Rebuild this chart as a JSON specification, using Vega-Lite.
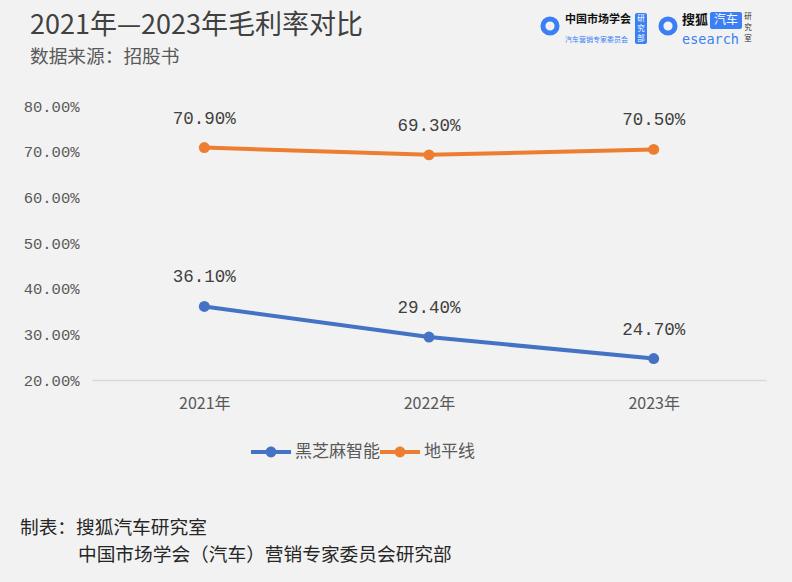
{
  "$schema": "https://vega.github.io/schema/vega-lite/v6.json",
  "width": 674,
  "height": 274,
  "autosize": "none",
  "padding": {"left": 92, "top": 106, "right": 26, "bottom": 202},
  "background": "#f2f2f2",
  "config": {"view": {"stroke": null}, "font": "Noto Sans CJK SC"},
  "layer": [
    {
      "data": {"values": [
        {"year": "2021年", "company": "黑芝麻智能", "value": 0.361},
        {"year": "2022年", "company": "黑芝麻智能", "value": 0.294},
        {"year": "2023年", "company": "黑芝麻智能", "value": 0.247},
        {"year": "2021年", "company": "地平线", "value": 0.709},
        {"year": "2022年", "company": "地平线", "value": 0.693},
        {"year": "2023年", "company": "地平线", "value": 0.705}
      ]},
      "encoding": {
        "x": {"field": "year", "type": "ordinal", "scale": {"type": "point", "padding": 0.5},
          "axis": {"title": null, "labelAngle": 0, "ticks": false, "domainColor": "#d9d9d9", "domainWidth": 1.5,
            "labelFont": "Noto Sans CJK SC", "labelFontSize": 16, "labelColor": "#595959", "labelPadding": 15, "labelDx": -6}},
        "y": {"field": "value", "type": "quantitative", "scale": {"domain": [0.2, 0.8], "nice": false},
          "axis": {"title": null, "format": ".2%", "values": [0.2, 0.3, 0.4, 0.5, 0.6, 0.7, 0.8], "grid": false, "domain": false, "ticks": false,
            "labelFont": "Liberation Mono", "labelFontSize": 15.5, "labelColor": "#595959", "labelPadding": 13}},
        "color": {"field": "company", "type": "nominal",
          "scale": {"domain": ["黑芝麻智能", "地平线"], "range": ["#4472C4", "#ED7D31"]},
          "legend": {"title": null, "orient": "none", "legendX": 159, "legendY": 326, "direction": "horizontal",
            "symbolType": "M -1 -0.1 L 1 -0.1 L 1 0.1 L -1 0.1 Z M 0.27 0 A 0.27 0.27 0 1 1 -0.27 0 A 0.27 0.27 0 1 1 0.27 0 Z",
            "symbolSize": 1600, "symbolStrokeWidth": 0, "labelFontSize": 17, "labelColor": "#595959", "labelFont": "Noto Sans CJK SC",
            "columnPadding": 0, "labelOffset": 4}}
      },
      "layer": [
        {"mark": {"type": "line", "strokeWidth": 4}},
        {"mark": {"type": "point", "filled": true, "size": 120, "opacity": 1}},
        {"mark": {"type": "text", "dy": -29, "font": "Liberation Mono", "fontSize": 17.5, "color": "#404040"},
          "encoding": {"text": {"field": "value", "type": "quantitative", "format": ".2%"}, "color": {"value": "#404040"}}}
      ]
    },
    {
      "data": {"values": [{}]},
      "mark": {"type": "text", "text": "2021年—2023年毛利率对比", "align": "left", "baseline": "middle", "fontSize": 27, "fontWeight": "normal", "color": "#404040", "font": "Noto Sans CJK SC"},
      "encoding": {"x": {"value": -62}, "y": {"value": -80}}
    },
    {
      "data": {"values": [{}]},
      "mark": {"type": "text", "text": "数据来源：招股书", "align": "left", "baseline": "middle", "fontSize": 18.7, "color": "#595959", "font": "Noto Sans CJK SC"},
      "encoding": {"x": {"value": -62}, "y": {"value": -49.5}}
    },
    {
      "data": {"values": [{}]},
      "mark": {"type": "text", "text": "制表：搜狐汽车研究室", "align": "left", "baseline": "middle", "fontSize": 18.7, "color": "#262626", "font": "Noto Sans CJK SC"},
      "encoding": {"x": {"value": -72}, "y": {"value": 422}}
    },
    {
      "data": {"values": [{}]},
      "mark": {"type": "text", "text": "中国市场学会（汽车）营销专家委员会研究部", "align": "left", "baseline": "middle", "fontSize": 18.7, "color": "#262626", "font": "Noto Sans CJK SC"},
      "encoding": {"x": {"value": -14}, "y": {"value": 449}}
    },
    {
      "data": {"values": [{}]},
      "mark": {"type": "point", "shape": "circle", "filled": false, "strokeWidth": 5, "color": "#3b7ff5", "size": 200, "opacity": 1},
      "encoding": {"x": {"value": 458}, "y": {"value": -80}}
    },
    {
      "data": {"values": [{}]},
      "mark": {"type": "point", "shape": "circle", "filled": false, "strokeWidth": 5, "color": "#3b7ff5", "size": 200, "opacity": 1},
      "encoding": {"x": {"value": 576}, "y": {"value": -80}}
    },
    {
      "data": {"values": [{}]},
      "mark": {"type": "text", "text": "中国市场学会", "align": "left", "baseline": "middle", "fontSize": 11, "fontWeight": "bold", "color": "#111111", "font": "Noto Sans CJK SC"},
      "encoding": {"x": {"value": 473}, "y": {"value": -86}}
    },
    {
      "data": {"values": [{}]},
      "mark": {"type": "text", "text": "汽车营销专家委员会", "align": "left", "baseline": "middle", "fontSize": 7, "color": "#3b7ff5", "font": "Noto Sans CJK SC"},
      "encoding": {"x": {"value": 473}, "y": {"value": -66}}
    },
    {
      "data": {"values": [{}]},
      "mark": {"type": "rect", "color": "#3b7ff5", "cornerRadius": 2},
      "encoding": {"x": {"value": 543}, "x2": {"value": 555}, "y": {"value": -93}, "y2": {"value": -62}}
    },
    {
      "data": {"values": [{}]},
      "mark": {"type": "text", "text": ["研", "究", "部"], "align": "center", "baseline": "middle", "fontSize": 7.5, "lineHeight": 10, "color": "#ffffff", "font": "Noto Sans CJK SC"},
      "encoding": {"x": {"value": 549}, "y": {"value": -87}}
    },
    {
      "data": {"values": [{}]},
      "mark": {"type": "text", "text": "搜狐", "align": "left", "baseline": "middle", "fontSize": 13, "fontWeight": "bold", "color": "#111111", "font": "Noto Sans CJK SC"},
      "encoding": {"x": {"value": 590}, "y": {"value": -86}}
    },
    {
      "data": {"values": [{}]},
      "mark": {"type": "rect", "color": "#3b7ff5", "cornerRadius": 2},
      "encoding": {"x": {"value": 618}, "x2": {"value": 650}, "y": {"value": -94}, "y2": {"value": -77}}
    },
    {
      "data": {"values": [{}]},
      "mark": {"type": "text", "text": "汽车", "align": "center", "baseline": "middle", "fontSize": 12, "color": "#ffffff", "font": "Noto Sans CJK SC"},
      "encoding": {"x": {"value": 634}, "y": {"value": -86}}
    },
    {
      "data": {"values": [{}]},
      "mark": {"type": "text", "text": "esearch", "align": "left", "baseline": "middle", "fontSize": 13.5, "color": "#3b7ff5", "font": "DejaVu Sans Mono"},
      "encoding": {"x": {"value": 590}, "y": {"value": -66}}
    },
    {
      "data": {"values": [{}]},
      "mark": {"type": "text", "text": ["研", "究", "室"], "align": "center", "baseline": "middle", "fontSize": 7.5, "lineHeight": 11, "color": "#333333", "font": "Noto Sans CJK SC"},
      "encoding": {"x": {"value": 656}, "y": {"value": -89}}
    }
  ]
}
